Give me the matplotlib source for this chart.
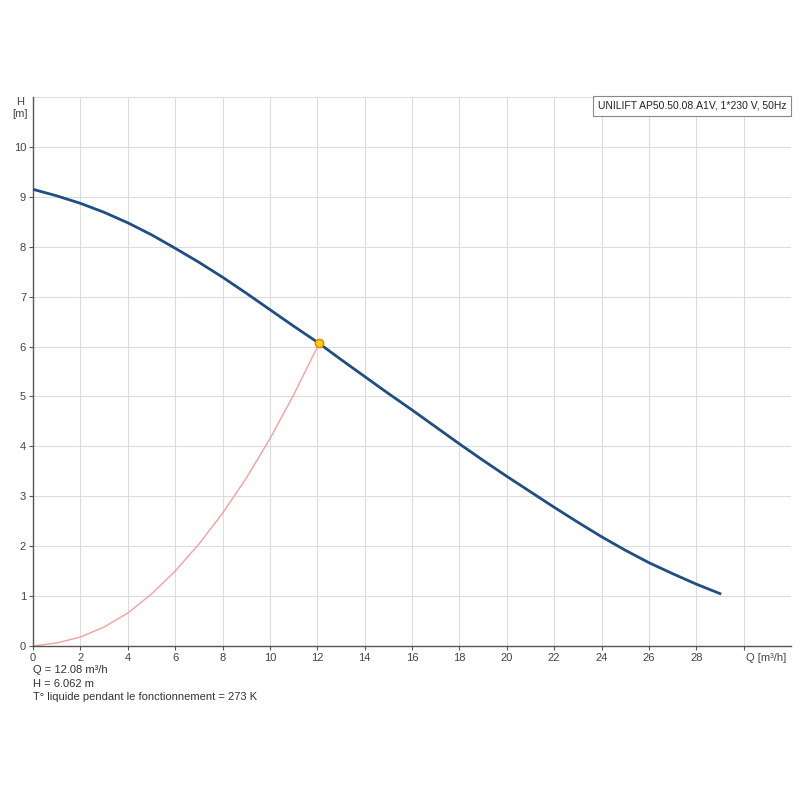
import matplotlib.pyplot as plt

plt.rcParams['font.family'] = ['Liberation Sans', 'DejaVu Sans']

# pump curve (Q m3/h, H m)
pump_q = [0, 1, 2, 3, 4, 5, 6, 7, 8, 9, 10, 11, 12, 12.08, 13, 14, 15, 16, 17, 18,
          19, 20, 21, 22, 23, 24, 25, 26, 27, 28, 29]
pump_h = [9.15, 9.02, 8.87, 8.69, 8.48, 8.24, 7.97, 7.69, 7.39, 7.07, 6.74, 6.41, 6.09,
          6.062, 5.74, 5.40, 5.06, 4.73, 4.39, 4.05, 3.72, 3.40, 3.09, 2.78, 2.48, 2.19,
          1.92, 1.67, 1.45, 1.24, 1.05]

# system curve
sys_q = [0, 1, 2, 3, 4, 5, 6, 7, 8, 9, 10, 11, 12.08]
sys_h = [0, 0.06, 0.18, 0.38, 0.66, 1.04, 1.50, 2.04, 2.66, 3.36, 4.15, 5.03, 6.062]

duty_q, duty_h = 12.08, 6.062

x_ticks = list(range(0, 30, 2))
y_ticks = list(range(0, 11))

fig = plt.figure(figsize=(8, 8), dpi=100)
ax = fig.add_axes([0.04125, 0.1925, 0.9475, 0.68625])

# grid lines
for gx in range(2, 33, 2):
    ax.axvline(gx, color='#dcdcdc', linewidth=0.8, zorder=0)
for gy in range(1, 12):
    ax.axhline(gy, color='#dcdcdc', linewidth=0.8, zorder=0)

ax.plot(sys_q, sys_h, color='#f4a0a0', linewidth=1.0, zorder=2)
ax.plot(pump_q, pump_h, color='#1f4e85', linewidth=2.0, zorder=3)
ax.plot([duty_q], [duty_h], 'o', markersize=6, markerfacecolor='#ffd000',
        markeredgecolor='#e08000', markeredgewidth=1, zorder=4)

ax.set_xlim(0, 32)
ax.set_ylim(0, 11)

ax.set_xticks(x_ticks + [30])
ax.set_xticklabels([str(v) for v in x_ticks] + [''])
ax.set_yticks(y_ticks)
ax.set_yticklabels([str(v) for v in y_ticks])
ax.tick_params(axis='both', labelsize=8, colors='#555555',
               length=3, width=0.8, pad=2, labelcolor='#444444')

for s in ['top', 'right']:
    ax.spines[s].set_visible(False)
for s in ['left', 'bottom']:
    ax.spines[s].set_color('#555555')
    ax.spines[s].set_linewidth(1.0)

ax.text(-0.017, 1.0, 'H\n[m]', transform=ax.transAxes, ha='center', va='top',
        fontsize=8, color='#444444', linespacing=1.2, multialignment='center')
ax.text(0.967, -0.012, 'Q [m³/h]', transform=ax.transAxes, ha='center', va='top',
        fontsize=8, color='#444444')

ax.text(0.9935, 0.993, 'UNILIFT AP50.50.08.A1V, 1*230 V, 50Hz', transform=ax.transAxes,
        ha='right', va='top', fontsize=7.5, color='#222222',
        bbox=dict(boxstyle='square,pad=0.45', facecolor='white', edgecolor='#888888', linewidth=0.8))

fig.text(0.041, 0.1625, 'Q = 12.08 m³/h', fontsize=8, color='#333333', va='center')
fig.text(0.041, 0.1455, 'H = 6.062 m', fontsize=8, color='#333333', va='center')
fig.text(0.041, 0.1285, 'T° liquide pendant le fonctionnement = 273 K', fontsize=8,
         color='#333333', va='center')

plt.savefig('out.png', dpi=100)
